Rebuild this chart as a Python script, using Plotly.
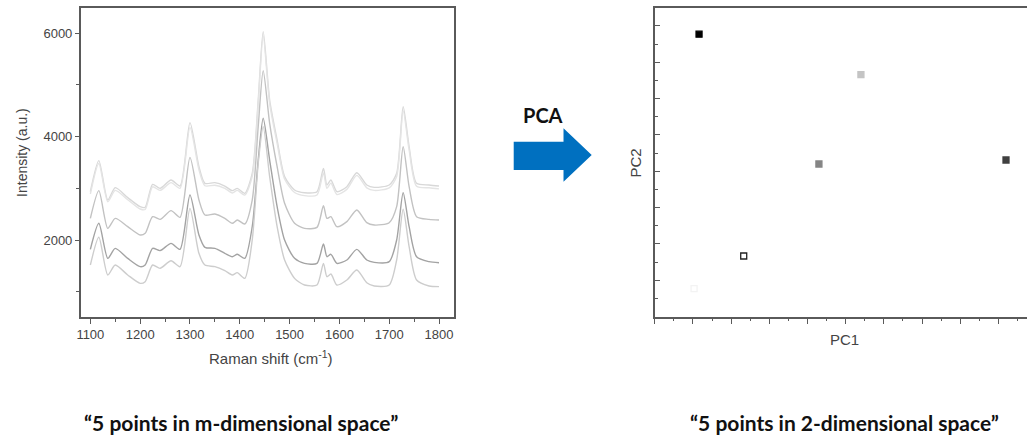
import plotly.graph_objects as go

W, H = 1027, 439

# ---- Left chart: Raman spectra ----
shift = [1100, 1117, 1135, 1150, 1175, 1200, 1210, 1225, 1240, 1262, 1280, 1300, 1318, 1330,
         1350, 1370, 1385, 1395, 1410, 1425, 1437, 1447, 1460, 1475, 1490, 1510, 1530, 1555,
         1568, 1575, 1583, 1595, 1615, 1635, 1655, 1670, 1700, 1715, 1728, 1740, 1755, 1780, 1800]

spec_1a = [2935, 3536, 2774, 3013, 2820, 2645, 2632, 3077, 3000, 3161, 3045, 4271, 3419, 3097,
           3110, 3045, 2955, 3000, 2903, 3290, 4710, 6032, 4710, 3935, 3226, 2968, 2916, 2935,
           3387, 3065, 3161, 2935, 3032, 3303, 3065, 3019, 3065, 3290, 4580, 3806, 3097, 3065, 3045]
spec_1b = [2890, 3480, 2740, 2960, 2780, 2600, 2590, 3030, 2960, 3110, 3000, 4180, 3360, 3050,
           3060, 3000, 2910, 2960, 2870, 3230, 4640, 5950, 4640, 3870, 3180, 2920, 2860, 2870,
           3300, 3000, 3100, 2880, 2980, 3250, 3010, 2960, 3010, 3230, 4500, 3740, 3040, 3010, 2990]
spec_2 = [2419, 2955, 2226, 2419, 2258, 2097, 2129, 2452, 2400, 2568, 2439, 3600, 2774, 2484,
          2503, 2419, 2323, 2387, 2310, 2774, 4194, 5277, 4258, 3419, 2710, 2323, 2226, 2245,
          2664, 2419, 2452, 2258, 2355, 2581, 2335, 2290, 2335, 2645, 3806, 3032, 2452, 2400, 2387]
spec_3 = [1819, 2323, 1645, 1839, 1645, 1484, 1516, 1839, 1794, 1935, 1819, 2871, 2097, 1858,
          1839, 1742, 1677, 1723, 1645, 2258, 3548, 4355, 3548, 2645, 2000, 1645, 1548, 1548,
          1923, 1677, 1723, 1548, 1613, 1819, 1613, 1568, 1581, 2000, 2916, 2258, 1677, 1581, 1561]
spec_4 = [1516, 2052, 1323, 1516, 1323, 1161, 1194, 1516, 1452, 1600, 1484, 2613, 1742, 1516,
          1484, 1406, 1323, 1368, 1258, 2000, 3484, 4194, 3226, 2258, 1613, 1258, 1129, 1129,
          1548, 1290, 1342, 1129, 1226, 1419, 1174, 1110, 1129, 1613, 2594, 1871, 1226, 1110, 1097]

spectra = [spec_1a, spec_1b, spec_2, spec_3, spec_4]
spec_colors = ["#d8d8d8", "#e4e4e4", "#c2c2c2", "#a3a3a3", "#cdcdcd"]

# ---- Right chart: PCA scores ----
pc1 = [1.16, 5.40, 4.30, 9.20, 2.33, 1.03]
pc2 = [7.77, 6.66, 4.20, 4.31, 1.67, 0.77]
pt_fill = ["#000000", "#c4c4c4", "#858585", "#404040", "#ffffff", "#ffffff"]
pt_line = ["#000000", "#c4c4c4", "#858585", "#404040", "#222222", "#f3f3f3"]

fig = go.Figure()

for s, c in zip(spectra, spec_colors):
    fig.add_trace(go.Scatter(x=shift, y=s, mode="lines", line=dict(color=c, width=1.4, shape="spline", smoothing=0.7),
                             xaxis="x", yaxis="y", showlegend=False, hoverinfo="skip"))

fig.add_trace(go.Scatter(x=pc1, y=pc2, mode="markers", xaxis="x2", yaxis="y2", showlegend=False,
                         marker=dict(symbol="square", size=6, color=pt_fill, line=dict(color=pt_line, width=1.3))))

def px(x):
    return x / W

def py(y):
    return 1 - y / H

axcol = "#5a5a5a"
tickfont = dict(family="Liberation Sans, Arial, sans-serif", size=13, color="#444444")

fig.update_layout(
    width=W, height=H, margin=dict(l=0, r=0, t=0, b=0),
    paper_bgcolor="white", plot_bgcolor="white",
    xaxis=dict(domain=[px(77), px(452)], range=[1080.6, 1830.6], tick0=1100, dtick=100,
               showgrid=False, zeroline=False, showline=True, linecolor=axcol, linewidth=1.5, mirror=True,
               ticks="outside", ticklen=5, tickwidth=1.2, tickcolor=axcol, tickfont=tickfont,
               minor=dict(dtick=50, ticks="outside", ticklen=3, tickcolor=axcol, tickwidth=1)),
    yaxis=dict(domain=[py(317), py(8)], range=[510, 6490], tickvals=[2000, 4000, 6000],
               showgrid=False, zeroline=False, showline=True, linecolor=axcol, linewidth=1.5, mirror=True,
               ticks="outside", ticklen=4, tickwidth=1.2, tickcolor=axcol, tickfont=tickfont,
               minor=dict(tickvals=[1000, 3000, 5000], ticks="outside", ticklen=3, tickcolor=axcol, tickwidth=1)),
    xaxis2=dict(domain=[px(653.3), 1], range=[0, 9.75], tick0=0, dtick=1, showticklabels=False,
                showgrid=False, zeroline=False, showline=True, linecolor=axcol, linewidth=1.5, mirror=True,
                ticks="outside", ticklen=6, tickwidth=1.2, tickcolor=axcol, anchor="y2",
                minor=dict(dtick=0.5, ticks="outside", ticklen=3, tickcolor=axcol, tickwidth=1)),
    yaxis2=dict(domain=[py(316.7), py(8)], range=[0, 8.49], tick0=0, dtick=1, showticklabels=False,
                showgrid=False, zeroline=False, showline=True, linecolor=axcol, linewidth=1.5, mirror=False,
                ticks="inside", ticklen=5, tickwidth=1.2, tickcolor=axcol, anchor="x2",
                minor=dict(dtick=0.5, ticks="inside", ticklen=3, tickcolor=axcol, tickwidth=1)),
)

titlefont = dict(family="Liberation Sans, Arial, sans-serif", size=14, color="#444444")
boldfont = dict(family="Lato, sans-serif", color="#111111", weight="bold")
ann = [
    dict(text="Intensity (a.u.)", x=px(18), y=py(152), textangle=-90, font=titlefont),
    dict(text="Raman shift (cm<sup>-1</sup>)", x=px(268), y=py(357), font=dict(titlefont, size=15)),
    dict(text="PC2", x=px(634), y=py(163), textangle=-90, font=dict(titlefont, size=15)),
    dict(text="PC1", x=px(844), y=py(339), font=dict(titlefont, size=15)),
    dict(text="PCA", x=px(541), y=py(115), font=dict(boldfont, size=20)),
    dict(text="“5 points in m-dimensional space”", x=px(238), y=py(422), font=dict(boldfont, size=21)),
    dict(text="“5 points in 2-dimensional space”", x=px(844), y=py(422), font=dict(boldfont, size=21)),
]
for a in ann:
    a.update(xref="paper", yref="paper", showarrow=False, xanchor="center", yanchor="middle")
fig.update_layout(annotations=ann)

# Blue block arrow (decoration)
pts = [(511.7, 141.7), (561.7, 141.7), (561.7, 128.3), (590, 155), (561.7, 181.7), (561.7, 170), (511.7, 170)]
path = "M " + " L ".join(f"{px(x):.5f},{py(y):.5f}" for x, y in pts) + " Z"
fig.add_shape(type="path", path=path, xref="paper", yref="paper", fillcolor="#0070C0", line=dict(width=0))

fig.write_html("out.html")
